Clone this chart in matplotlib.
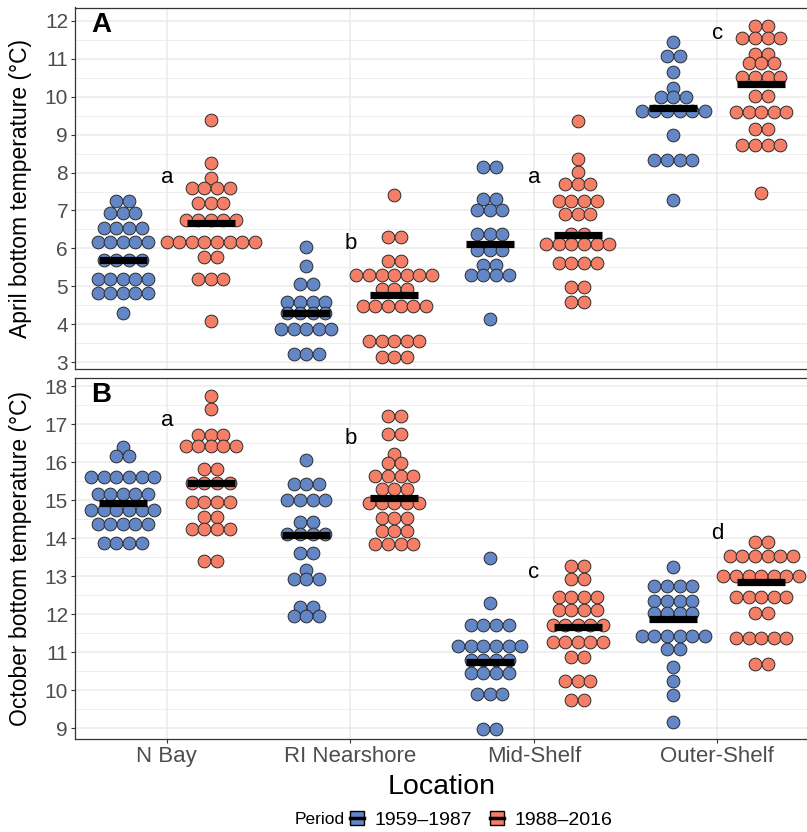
import matplotlib
matplotlib.use("Agg")
import matplotlib.pyplot as plt
from matplotlib.patches import Patch
from matplotlib.lines import Line2D
from matplotlib.legend_handler import HandlerTuple
from matplotlib.ticker import MultipleLocator

plt.rcParams['font.family'] = ['Liberation Sans', 'DejaVu Sans']

locations = ["N Bay", "RI Nearshore", "Mid-Shelf", "Outer-Shelf"]
periods = ["1959\u20131987", "1988\u20132016"]
colors = ["#6386C7", "#F47E66"]

# (bin value, number of stacked dots) for each group
apr_early_nbay = [(7.25, 2), (6.93, 3), (6.53, 4), (6.18, 5), (5.69, 4), (5.18, 5), (4.83, 5), (4.29, 1)]
apr_late_nbay = [(9.39, 1), (8.25, 1), (7.87, 1), (7.60, 4), (7.21, 3), (6.75, 5), (6.18, 8), (5.76, 2), (5.18, 3), (4.08, 1)]
apr_early_ri = [(6.04, 1), (5.54, 1), (5.05, 2), (4.59, 4), (4.29, 4), (3.87, 5), (3.21, 3)]
apr_late_ri = [(7.41, 1), (6.29, 2), (5.67, 2), (5.30, 7), (4.94, 3), (4.49, 6), (3.56, 5), (3.14, 3)]
apr_early_mid = [(8.14, 2), (7.30, 2), (7.00, 3), (6.37, 3), (5.96, 3), (5.56, 2), (5.29, 4), (4.14, 1)]
apr_late_mid = [(9.37, 1), (8.35, 1), (8.02, 1), (7.70, 3), (7.25, 4), (6.90, 3), (6.37, 2), (6.12, 6), (5.62, 4), (4.97, 2), (4.59, 2)]
apr_early_outer = [(11.44, 1), (11.08, 2), (10.66, 1), (10.22, 1), (9.99, 3), (9.63, 6), (8.99, 1), (8.33, 4), (7.28, 1)]
apr_late_outer = [(11.87, 2), (11.54, 4), (11.12, 2), (10.88, 3), (10.53, 4), (10.03, 2), (9.61, 5), (9.14, 2), (8.73, 4), (7.47, 1)]

oct_early_nbay = [(16.40, 1), (16.16, 2), (15.60, 6), (15.15, 5), (14.75, 6), (14.37, 5), (13.86, 4)]
oct_late_nbay = [(17.75, 1), (17.39, 1), (16.71, 3), (16.42, 5), (15.81, 2), (15.46, 4), (14.96, 4), (14.56, 2), (14.24, 4), (13.39, 2)]
oct_early_ri = [(16.05, 1), (15.42, 3), (15.00, 4), (14.41, 2), (14.11, 4), (13.61, 2), (13.16, 1), (12.91, 3), (12.19, 2), (11.96, 3)]
oct_late_ri = [(17.21, 2), (16.74, 2), (16.21, 1), (15.97, 2), (15.64, 4), (15.28, 3), (14.91, 5), (14.53, 3), (14.19, 3), (13.84, 4)]
oct_early_mid = [(13.48, 1), (12.28, 1), (11.71, 4), (11.17, 6), (10.79, 4), (10.44, 4), (9.89, 3), (8.97, 2)]
oct_late_mid = [(13.27, 2), (12.91, 2), (12.44, 4), (12.11, 4), (11.71, 5), (11.27, 5), (10.86, 2), (10.24, 3), (9.74, 2)]
oct_early_outer = [(13.24, 1), (12.74, 4), (12.35, 4), (12.02, 4), (11.43, 6), (11.08, 2), (10.60, 1), (10.24, 1), (9.87, 1), (9.15, 1)]
oct_late_outer = [(13.89, 2), (13.53, 6), (13.00, 7), (12.46, 5), (12.03, 2), (11.36, 5), (10.68, 2)]

apr_med_early = [5.69, 4.30, 6.11, 9.70]
apr_med_late = [6.66, 4.77, 6.35, 10.34]
oct_med_early = [14.91, 14.08, 10.75, 11.86]
oct_med_late = [15.45, 15.04, 11.67, 12.83]

apr_letters = ["a", "b", "a", "c"]
apr_letter_y = [7.88, 6.14, 7.88, 11.68]
oct_letters = ["a", "b", "c", "d"]
oct_letter_y = [17.09, 16.62, 13.10, 14.12]

apr_groups = [[apr_early_nbay, apr_early_ri, apr_early_mid, apr_early_outer],
              [apr_late_nbay, apr_late_ri, apr_late_mid, apr_late_outer]]
oct_groups = [[oct_early_nbay, oct_early_ri, oct_early_mid, oct_early_outer],
              [oct_late_nbay, oct_late_ri, oct_late_mid, oct_late_outer]]

W, H = 807, 832
fig = plt.figure(figsize=(W / 100, H / 100), dpi=100)
left = 75 / W
width = (809 - 75) / W
axA = fig.add_axes([left, 1 - 369 / H, width, (369 - 7.5) / H])
axB = fig.add_axes([left, 1 - 739 / H, width, (739 - 377.7) / H])

dodge = 0.24
dot_w = 12.6 / 183.5   # dot diameter in x data units
half_bar = 0.131


def draw_panel(ax, groups, meds_e, meds_l, letters, letter_y, ylim, yticks, label, ylabel):
    ax.set_xlim(0.5, 4.5)
    ax.set_ylim(*ylim)
    ax.set_facecolor("white")
    ax.yaxis.set_major_locator(MultipleLocator(1))
    ax.yaxis.set_minor_locator(MultipleLocator(0.5))
    ax.set_yticks(yticks)
    ax.set_xticks(range(1, 5))
    ax.grid(which="major", color="#EBEBEB", lw=1.1, zorder=0)
    ax.grid(which="minor", axis="y", color="#EBEBEB", lw=0.6, zorder=0)
    ax.set_axisbelow(True)
    for s in ax.spines.values():
        s.set_color("#333333")
        s.set_linewidth(0.9)
    ax.tick_params(axis="y", which="major", length=3, color="#333333",
                   labelsize=15, labelcolor="#4D4D4D", pad=2)
    ax.tick_params(axis="y", which="minor", length=0)
    ax.tick_params(axis="x", length=3, color="#333333", labelsize=16,
                   labelcolor="#4D4D4D", pad=2)
    for p, (grp, meds) in enumerate(zip(groups, [meds_e, meds_l])):
        off = -dodge if p == 0 else dodge
        for i, bins in enumerate(grp):
            xc = i + 1 + off
            xs, ys = [], []
            for val, n in bins:
                for k in range(n):
                    xs.append(xc + (k - (n - 1) / 2) * dot_w)
                    ys.append(val)
            ax.scatter(xs, ys, s=84, facecolor=colors[p], edgecolor="#2B2B2B",
                       linewidth=0.7, zorder=3, clip_on=False)
            ax.plot([xc - half_bar, xc + half_bar], [meds[i], meds[i]], color="black",
                    lw=5.2, solid_capstyle="butt", zorder=4)
    for i, (t, y) in enumerate(zip(letters, letter_y)):
        ax.text(i + 1, y, t, ha="center", va="center", fontsize=16, color="black", zorder=5)
    ax.text(0.036, 0.952, label, transform=ax.transAxes, ha="center", va="center",
            fontsize=20, fontweight="bold")
    ax.set_ylabel(ylabel, fontsize=16.5)


draw_panel(axA, apr_groups, apr_med_early, apr_med_late, apr_letters, apr_letter_y,
           (12 - (369 - 21) / 37.9, 12 + (21 - 7.5) / 37.9), range(3, 13), "A",
           "April bottom temperature (\u00b0C)")
draw_panel(axB, oct_groups, oct_med_early, oct_med_late, oct_letters, oct_letter_y,
           (9 - (739 - 728) / 38, 18 + (386 - 377.7) / 38), range(9, 19), "B",
           "October bottom temperature (\u00b0C)")
axA.set_xticklabels([])
axA.tick_params(axis="x", length=0)
axB.set_xticklabels(locations)
axB.set_xlabel("Location", fontsize=20.5, labelpad=5)

for ax in (axA, axB):
    ax.yaxis.set_label_coords(-43 / 734, 0.5)

handles = [(Patch(facecolor=c, edgecolor="black", lw=1.0),
            Line2D([], [], color="black", lw=2.5)) for c in colors]
fig.text(295 / W, 1 - 820 / H, "Period", fontsize=12.5, ha="left", va="center")
fig.legend(handles, periods, loc="center left", bbox_to_anchor=(350 / W, 1 - 820 / H),
           ncol=2, frameon=False, fontsize=14, handlelength=0.72, handleheight=0.72,
           handletextpad=0.55, columnspacing=0.9, borderaxespad=0, borderpad=0,
           handler_map={tuple: HandlerTuple(ndivide=1)})

fig.savefig("out.png", dpi=100)
